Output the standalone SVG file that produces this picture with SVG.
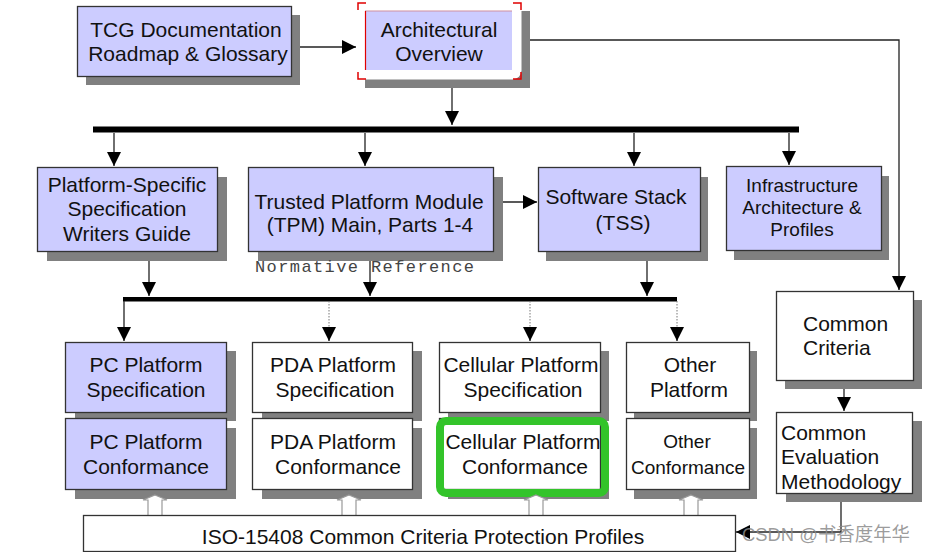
<svg xmlns="http://www.w3.org/2000/svg" width="926" height="552" viewBox="0 0 926 552">
<defs>
<style>
.sh{fill:#808080}
.bb{fill:#ccccff;stroke:#333;stroke-width:1.3}
.wb{fill:#ffffff;stroke:#333;stroke-width:1.3}
.t{font-family:"Liberation Sans",Arial,sans-serif;font-size:21px;fill:#111;text-anchor:middle}
.tl{font-family:"Liberation Sans",Arial,sans-serif;font-size:21px;fill:#111}
.s19{font-size:19px}
.ln{fill:none;stroke:#222;stroke-width:1.3}
.dot{fill:none;stroke:#777;stroke-width:1;stroke-dasharray:1.5 1.5}
.bus{fill:#000}
.ho{fill:#fff;stroke:#999;stroke-width:1.2}
.mono{font-family:"Liberation Mono","Courier New",monospace;font-size:17px;fill:#444}
</style>
<marker id="ah" markerUnits="userSpaceOnUse" markerWidth="15" markerHeight="15" refX="14" refY="7" orient="auto">
<path d="M0,0 L14,7 L0,14 z" fill="#000"/>
</marker>
<clipPath id="cemclip"><rect x="776" y="412" width="136" height="81"/></clipPath>
</defs>

<g id="connectors">
<rect class="bus" x="93" y="126.5" width="706" height="6"/>
<rect class="bus" x="123" y="297" width="554" height="4.5"/>
<path class="ln" d="M291,47 H356" marker-end="url(#ah)"/>
<path class="ln" d="M452,79 V125" marker-end="url(#ah)"/>
<path class="ln" d="M521,40 H899 V290" marker-end="url(#ah)"/>
<path class="ln" d="M114,133 V166" marker-end="url(#ah)"/>
<path class="ln" d="M365,133 V166" marker-end="url(#ah)"/>
<path class="ln" d="M634,133 V166" marker-end="url(#ah)"/>
<path class="ln" d="M789,133 V165" marker-end="url(#ah)"/>
<path class="ln" d="M493,202 H537" marker-end="url(#ah)"/>
<path class="ln" d="M149,251 V296" marker-end="url(#ah)"/>
<path class="ln" d="M370,251 V296" marker-end="url(#ah)"/>
<path class="ln" d="M647,251 V296" marker-end="url(#ah)"/>
<path class="ln" d="M124,301 V341" marker-end="url(#ah)"/>
<path class="dot" d="M329,301 V328"/>
<path class="ln" d="M329,327 V341" marker-end="url(#ah)"/>
<path class="dot" d="M530,301 V328"/>
<path class="ln" d="M530,327 V341" marker-end="url(#ah)"/>
<path class="dot" d="M677,301 V328"/>
<path class="ln" d="M677,327 V341" marker-end="url(#ah)"/>
<path class="ln" d="M844,380 V411" marker-end="url(#ah)"/>
<path class="ln" d="M841,493 V532 H736" marker-end="url(#ah)"/>
</g>

<g id="tcg">
<rect class="sh" x="86" y="15" width="214" height="70"/>
<rect class="bb" x="77.5" y="6.5" width="214" height="70"/>
<text class="t" x="186" y="37">TCG Documentation</text>
<text class="t" x="188" y="61">Roadmap &amp; Glossary</text>
</g>

<g id="arch">
<rect class="sh" x="365" y="11" width="165" height="77"/>
<rect x="357.5" y="2.5" width="164" height="77" rx="9" fill="#fff"/>
<path d="M358,10 V3 H366 M513,3 H521 V10 M358,72 V79 H366 M513,79 H521 V72" fill="none" stroke="#e00000" stroke-width="1.5"/>
<rect x="365" y="11" width="147" height="59" fill="#ccccff"/>
<path d="M365,11 H512" stroke="#d090a0" stroke-width="1.2"/>
<path d="M365.5,11 V70" stroke="#e00000" stroke-width="1.2"/>
<text class="t" x="439" y="37">Architectural</text>
<text class="t" x="439" y="61">Overview</text>
</g>

<g id="psswg">
<rect class="sh" x="47" y="177" width="180" height="84"/>
<rect class="bb" x="37.5" y="167.5" width="180" height="84"/>
<text class="t" x="127" y="192">Platform-Specific</text>
<text class="t" x="127" y="216">Specification</text>
<text class="t" x="127" y="241">Writers Guide</text>
</g>

<g id="tpm">
<rect class="sh" x="258" y="177" width="245" height="84"/>
<rect class="bb" x="248.5" y="167.5" width="245" height="84"/>
<text class="t" x="369" y="209">Trusted Platform Module</text>
<text class="t" x="370" y="232">(TPM) Main, Parts 1-4</text>
</g>

<g id="normref">
<text class="mono" x="255" y="272" textLength="219" lengthAdjust="spacing">Normative Reference</text>
</g>

<g id="tss">
<rect class="sh" x="546" y="177" width="162" height="84"/>
<rect class="bb" x="538.5" y="167.5" width="162" height="84"/>
<text class="t" x="616" y="204">Software Stack</text>
<text class="t" x="623" y="230">(TSS)</text>
</g>

<g id="infra">
<rect class="sh" x="734" y="176" width="155" height="84"/>
<rect class="bb" x="726.5" y="166.5" width="155" height="84"/>
<text class="t s19" x="802" y="192">Infrastructure</text>
<text class="t s19" x="802" y="214">Architecture &amp;</text>
<text class="t s19" x="802" y="236">Profiles</text>
</g>

<g id="pcspec">
<rect class="sh" x="75" y="351" width="161" height="70"/>
<rect class="bb" x="65.5" y="342.5" width="161" height="70"/>
<text class="t" x="146" y="372">PC Platform</text>
<text class="t" x="146" y="397">Specification</text>
</g>
<g id="pcconf">
<rect class="sh" x="75" y="428" width="161" height="71"/>
<rect class="bb" x="65.5" y="418.5" width="161" height="71"/>
<text class="t" x="146" y="449">PC Platform</text>
<text class="t" x="146" y="474">Conformance</text>
</g>

<g id="pdaspec">
<rect class="sh" x="262" y="351" width="160" height="70"/>
<rect class="wb" x="252.5" y="342.5" width="160" height="70"/>
<text class="t" x="333" y="372">PDA Platform</text>
<text class="t" x="335" y="397">Specification</text>
</g>
<g id="pdaconf">
<rect class="sh" x="262" y="428" width="160" height="71"/>
<rect class="wb" x="252.5" y="418.5" width="160" height="71"/>
<text class="t" x="333" y="449">PDA Platform</text>
<text class="t" x="338" y="474">Conformance</text>
</g>

<g id="cellspec">
<rect class="sh" x="448" y="351" width="161" height="70"/>
<rect class="wb" x="439.5" y="342.5" width="161" height="70"/>
<text class="t" x="521" y="372">Cellular Platform</text>
<text class="t" x="523" y="397">Specification</text>
</g>
<g id="cellconf">
<rect class="sh" x="448" y="428" width="161" height="71"/>
<rect class="wb" x="439.5" y="418.5" width="161" height="71"/>
<text class="t" x="523" y="449">Cellular Platform</text>
<text class="t" x="525" y="474">Conformance</text>
<rect x="440" y="421" width="165" height="72" rx="6" fill="none" stroke="#33c42a" stroke-width="8"/>
</g>

<g id="otherspec">
<rect class="sh" x="634" y="351" width="123" height="70"/>
<rect class="wb" x="626.5" y="342.5" width="123" height="70"/>
<text class="t" x="690" y="372">Other</text>
<text class="t" x="689" y="397">Platform</text>
</g>
<g id="otherconf">
<rect class="sh" x="634" y="428" width="123" height="71"/>
<rect class="wb" x="626.5" y="418.5" width="123" height="71"/>
<text class="t s19" x="687" y="448">Other</text>
<text class="t s19" x="688" y="474">Conformance</text>
</g>

<g id="cc">
<rect class="sh" x="785" y="300" width="137" height="89"/>
<rect class="wb" x="776.5" y="291.5" width="137" height="89"/>
<text class="tl" x="803" y="331">Common</text>
<text class="tl" x="803" y="355">Criteria</text>
</g>

<g id="cem">
<rect class="sh" x="786" y="421" width="136" height="81"/>
<rect x="776.5" y="412.5" width="136" height="81" fill="#fff"/>
<g clip-path="url(#cemclip)">
<text class="tl" x="781" y="440">Common</text>
<text class="tl" x="781" y="464">Evaluation</text>
<text class="tl" x="781" y="489">Methodology</text>
</g>
<rect x="776.5" y="412.5" width="136" height="81" fill="none" stroke="#333" stroke-width="1.3"/>
</g>

<g id="iso">
<path class="ho" d="M155,495 L167,500 L162,500 L162,516 L148,516 L148,500 L143,500 Z"/>
<path class="ho" d="M349,495 L361,500 L356,500 L356,516 L342,516 L342,500 L337,500 Z"/>
<path class="ho" d="M536,495 L548,500 L543,500 L543,516 L529,516 L529,500 L524,500 Z"/>
<path class="ho" d="M691,495 L703,500 L698,500 L698,516 L684,516 L684,500 L679,500 Z"/>
<rect class="wb" x="83.5" y="515.5" width="652" height="36"/>
<text class="t" x="423" y="544">ISO-15408 Common Criteria Protection Profiles</text>
</g>

<g id="watermark">
<text x="742" y="541" font-family="'Liberation Sans','Noto Sans CJK SC',sans-serif" font-size="19" fill="#8a8a8a" fill-opacity="0.85" textLength="168" lengthAdjust="spacingAndGlyphs">CSDN @书香度年华</text>
</g>
</svg>
